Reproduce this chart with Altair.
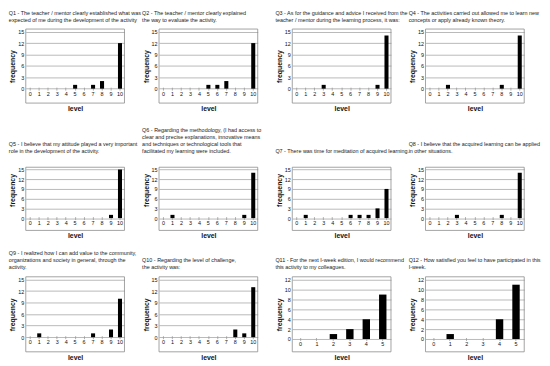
import altair as alt
import pandas as pd

levels10 = list(range(11))
levels5 = list(range(6))

q_ids = ["Q1", "Q2", "Q3", "Q4", "Q5", "Q6", "Q7", "Q8", "Q9", "Q10", "Q11", "Q12"]

titles = {
    "Q1": ["Q1 - The teacher / mentor clearly established what was", "expected of me during the development of the activity"],
    "Q2": ["Q2 - The teacher / mentor clearly explained", "the way to evaluate the activity."],
    "Q3": ["Q3 - As for the guidance and advice I received from the", "teacher / mentor during the learning process, it was:"],
    "Q4": ["Q4 - The activities carried out allowed me to learn new", "concepts or apply already known theory."],
    "Q5": ["Q5 - I believe that my attitude played a very important", "role in the development of the activity."],
    "Q6": ["Q6 - Regarding the methodology, (I had access to", "clear and precise explanations, innovative means",
           "and techniques or technological tools that", "facilitated my learning were included."],
    "Q7": ["Q7 - There was time for meditation of acquired learning."],
    "Q8": ["Q8 - I believe that the acquired learning can be applied", "in other situations."],
    "Q9": ["Q9 - I realized how I can add value to the community,", "organizations and society in general, through the", "activity."],
    "Q10": ["Q10 - Regarding the level of challenge,", "the activity was:"],
    "Q11": ["Q11 - For the next I-week edition, I would recommend", "this activity to my colleagues."],
    "Q12": ["Q12 - How satisfied you feel to have participated in this", "I-week."],
}

q1 = [0, 0, 0, 0, 0, 1, 0, 1, 2, 0, 12]
q2 = [0, 0, 0, 0, 0, 1, 1, 2, 0, 0, 12]
q3 = [0, 0, 0, 1, 0, 0, 0, 0, 0, 1, 14]
q4 = [0, 0, 1, 0, 0, 0, 0, 0, 1, 0, 14]
q5 = [0, 0, 0, 0, 0, 0, 0, 0, 0, 1, 15]
q6 = [0, 1, 0, 0, 0, 0, 0, 0, 0, 1, 14]
q7 = [0, 1, 0, 0, 0, 0, 1, 1, 1, 3, 9]
q8 = [0, 0, 0, 1, 0, 0, 0, 0, 1, 0, 14]
q9 = [0, 1, 0, 0, 0, 0, 0, 1, 0, 2, 10]
q10 = [0, 0, 0, 0, 0, 0, 0, 0, 2, 1, 13]
q11 = [0, 0, 1, 2, 4, 9]
q12 = [0, 1, 0, 0, 4, 11]

counts = dict(zip(q_ids, [q1, q2, q3, q4, q5, q6, q7, q8, q9, q10, q11, q12]))

FONT = "Liberation Sans Narrow, Liberation Sans, Arial Narrow, sans-serif"
W = 100


def panel(q, box_h, ext, title_offset):
    c = counts[q]
    levels = levels10 if len(c) == 11 else levels5
    if len(c) == 11:
        ymax, step, lo, hi = 15, 3, -3.8, 15.7
    else:
        ymax, step, lo, hi = 12, 2, -2.6, 12.6
    view_h = box_h + ext
    hi_ext = hi + ext * (hi - lo) / box_h
    df = pd.DataFrame({"level": levels, "count": c})
    zero_px = box_h * (-lo) / (hi - lo)
    xscale = alt.Scale(domain=levels, paddingInner=0.55, paddingOuter=0.275)
    yscale = alt.Scale(domain=[lo, hi_ext], nice=False, zero=False)
    x = alt.X("level:O", scale=xscale,
              axis=alt.Axis(title="level", labelAngle=0, offset=-zero_px - 1.5, grid=False,
                            domain=False, tickColor="#999999", tickSize=3, tickWidth=0.8,
                            labelPadding=1.0, labelOverlap=False,
                            titlePadding=max(zero_px - 6.5, 0)))
    y = alt.Y("count:Q", scale=yscale,
              axis=alt.Axis(title="frequency", values=list(range(0, ymax + 1, step)),
                            grid=True, gridColor="#a8a8a8", gridWidth=0.8, labelOverlap=False,
                            domain=False, ticks=False, labelPadding=2, titlePadding=2))
    bars = alt.Chart(df[df["count"] > 0]).mark_bar(color="black").encode(x=x, y=y)
    frame = alt.Chart(pd.DataFrame({"f": [0]})).mark_rect(
        fillOpacity=0, stroke="#8c8c8c", strokeWidth=0.8
    ).encode(x=alt.value(0), x2=alt.value(W), y=alt.value(ext), y2=alt.value(view_h))
    return alt.layer(bars, frame).properties(
        width=W, height=view_h,
        title=alt.TitleParams(text=titles[q], anchor="start", frame="bounds", fontSize=5.5,
                              font=FONT, fontWeight="normal", color="#1a1a1a",
                              lineHeight=7.2, offset=title_offset))


panels = []
for i, q in enumerate(q_ids):
    if i < 4:
        panels.append(panel(q, 75, 0, 5))
    elif i < 8:
        panels.append(panel(q, 64, 18, -5))
    else:
        panels.append(panel(q, 76, 0, 6))

chart = alt.concat(*panels, columns=4, spacing={"row": 47, "column": 35},
                   bounds="flush", align="each").properties(padding=0).configure_view(
    stroke="transparent"
).configure_axis(
    labelFont=FONT, titleFont=FONT, labelFontSize=5.5, titleFontSize=7,
    titleFontWeight="bold", labelColor="#111111", titleColor="#111111"
)

chart.save("out.html", embed_options={"renderer": "svg", "actions": False})
